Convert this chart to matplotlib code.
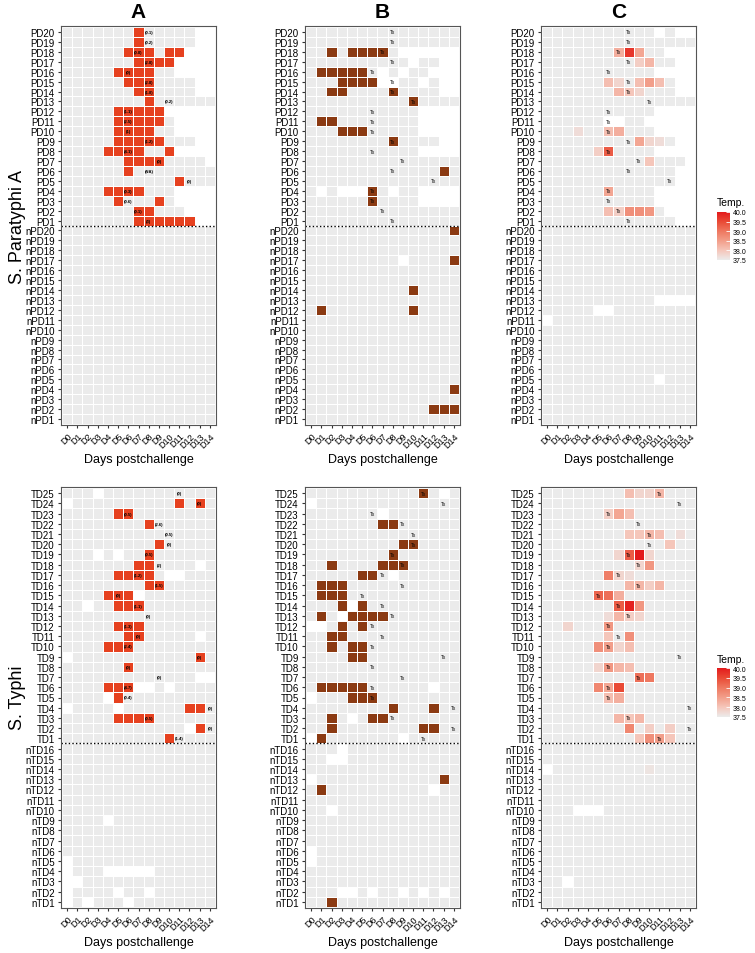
import matplotlib
matplotlib.use("Agg")
import matplotlib.pyplot as plt
import numpy as np
from matplotlib.colors import ListedColormap, LinearSegmentedColormap

plt.rcParams['font.family'] = ['Liberation Sans', 'DejaVu Sans']

days = [f"D{i}" for i in range(15)]

# ---- S. Paratyphi A (rows listed top -> bottom) ----
pd_rows = [f"PD{i}" for i in range(20, 0, -1)] + [f"nPD{i}" for i in range(20, 0, -1)]

# '.' = negative / normal, '#' = positive, ' ' = no sample
pd_culture = [
    ".......#.....  ", ".......#.....  ", "......###.##   ", ".......####    ",
    ".....####..    ", "......###....  ", ".......##....  ", "........#......",
    ".....#####     ", ".....#####.    ", ".....####..    ", ".....#####...  ",
    "....####..#    ", "......####.... ", "......#........", "...........#...",
    "....####...    ", ".....#...#.    ", ".......##...   ", ".......######  ",
] + ["..............."] * 20

pd_pcr = [
    "...............", "...............", "..#.####.      ", ".......... ..  ",
    ".#####. . ..   ", "...####  .. .  ", "..##....#....  ", "..........#....",
    "...........    ", ".##........    ", "...###.....    ", "........#....  ",
    "...........    ", "...............", ".............#.", "...............",
    ". .   #. ..    ", "......#....    ", "...............", "...............",
    "..............#", "...............", "...............", "......... ....#",
    "...............", "...............", "..........#....", "...............",
    ".#........#....", "...............", "...............", "...............",
    "...............", "...............", "...............", "...............",
    "..............#", "...............", "............###", "...............",
]

pd_temp_present = [
    "........... .  ", "...............", "............   ", ".............  ",
    "...........    ", ".............  ", ".............  ", "...............",
    "...........    ", "......  ..     ", "...........    ", ".............  ",
    "...........    ", ".............. ", ".............  ", ".............  ",
    "...........    ", "...........    ", "............   ", ".............  ",
    "...............", "...............", "...............", "...............",
    "...............", "...............", "...............", "...........    ",
    ".....  ........", " ..............", "...............", "...............",
    "...............", "...............", "...............", "........... ...",
    "...............", "...............", "...............", "...............",
]

pd_temp = {
    "PD18": {7: 38.3, 8: 39.7, 9: 38.4},
    "PD17": {9: 37.9, 10: 38.2},
    "PD15": {6: 38.1, 7: 37.8, 9: 38.1, 10: 38.5, 11: 38.1},
    "PD14": {7: 38.2, 8: 38.0, 9: 37.8},
    "PD10": {3: 37.7, 6: 38.1, 7: 38.3},
    "PD9": {9: 38.4, 10: 37.8, 11: 37.7},
    "PD8": {5: 37.9, 6: 39.3},
    "PD7": {10: 38.0},
    "PD4": {6: 38.4},
    "PD2": {6: 38.1, 7: 37.9, 8: 38.7, 9: 38.7, 10: 38.6},
}

pd_tx_day = [8, 8, 7, 8, 6, 8, 8, 10, 6, 6, 6, 8, 6, 9, 8, 12, 6, 6, 7, 8]
pd_notes = ["(0.1)", "(0.2)", "(0.8)", "(2.8)", "(0)", "(2.8)", "(1.8)", "(0.2)",
            "(1.1)", "(2.5)", "(1)", "(1.2)", "(4.1)", "(0)", "(NA)", "(0)",
            "(0.3)", "(0.6)", "(0.1)", "(3)"]

# ---- S. Typhi ----
td_rows = [f"TD{i}" for i in range(25, 0, -1)] + [f"nTD{i}" for i in range(16, 0, -1)]

td_culture = [
    "... ...........", " ..........#.#.", ".....##........", "........#......",
    "...............", ".........#.....", "... . ..#......", ".......##.... .",
    ".....####.  ...", "........##.....", "....### .......", ".. ..###.......",
    "...............", ".....###.......", "......##..... .", "....###........",
    " ............#.", "......#........", ".............  ", "....###  . ....",
    ".... #.........", " .... ......##.", ".....####......", "............ #.",
    "..........#....",
    "...............", "...............", "...............", "...............",
    "...............", "...............", "...............", ".... ..........",
    "...............", "...............", "...............", " ..............",
    " ...     ......", "  .............", " .... .. ......", " . ... ........",
]

td_pcr = [
    "...........#. .", " ..............", "....... .......", ".......##......",
    "...............", ".........##....", "........#......", "..#....###.....",
    ".....##. ......", ".###...........", ".###...........", "...# #.........",
    ".#. ####.......", "  .#.#.........", "..##...........", "..#.##.........",
    "....##.........", "...............", "...............", ".#####...... ..",
    " ...###........", "........#...#..", "..#. .##.......", "..#........##..",
    " #....... .....",
    "... ...........", "..  ...........", "...............", " ............#.",
    ".#.......... ..", "...............", ".. ............", "...............",
    "...............", "...............", " ..............", " ..............",
    "...............", "...............", "...  . .. . . .", "..#............",
]

td_temp_present = ["..............."] * 27 + [
    " ..............", "...............", "...............", "...............",
    "...   .........", "...............", "...............", "...............",
    "...............", "...............", "...............", ".. ............",
    "...............", "...............",
]

td_temp = {
    "TD25": {8: 38.1, 9: 37.8, 10: 37.8, 11: 38.2},
    "TD23": {6: 37.9, 7: 38.4, 8: 38.1},
    "TD21": {8: 38.0, 9: 38.0, 10: 38.2, 11: 38.1, 13: 37.7},
    "TD20": {12: 38.0},
    "TD19": {7: 37.8, 8: 39.3, 9: 40.0, 10: 37.8},
    "TD18": {9: 37.8, 10: 38.6},
    "TD17": {6: 38.9, 7: 37.8, 8: 37.7},
    "TD16": {8: 38.2, 9: 38.2, 10: 37.9, 11: 38.2},
    "TD15": {5: 39.2, 6: 39.1, 7: 38.3},
    "TD14": {7: 39.3, 8: 39.9, 9: 38.6},
    "TD13": {6: 37.7, 7: 38.2, 8: 37.9, 9: 37.8},
    "TD12": {2: 37.8, 6: 38.6},
    "TD11": {6: 38.0, 8: 38.7},
    "TD10": {5: 38.7, 6: 38.5, 7: 37.8, 8: 38.1},
    "TD8": {5: 37.8, 6: 38.6, 7: 38.2, 8: 38.1},
    "TD7": {9: 39.1, 10: 39.0},
    "TD6": {5: 38.8, 6: 38.4, 7: 39.5},
    "TD5": {6: 38.1, 7: 38.3},
    "TD3": {7: 38.2, 8: 38.0, 9: 38.2},
    "TD2": {8: 38.8, 10: 37.9, 12: 37.9},
    "TD1": {9: 38.0, 10: 38.7, 11: 38.5, 12: 38.0},
    "nTD14": {10: 37.6},
}

td_tx_day = [11, 13, 6, 9, 10, 10, 8, 9, 7, 9, 5, 7, 8, 6, 7, 6, 13, 6, 9, 6, 6, 14, 8, 14, 11]
td_notes = ["(0)", "(0)", "(0.5)", "(2.6)", "(0.5)", "(0)", "(0.5)", "(2)", "(1.2)", "(1.5)",
            "(0)", "(1.1)", "(0)", "(1.3)", "(0)", "(2.4)", "(0)", "(0)", "(0)", "(4.7)",
            "(0.4)", "(0)", "(0.5)", "(0)", "(1.4)"]

GREY = "#EBEBEB"
RED = "#E6411F"
BROWN = "#8B3A12"
temp_cmap = LinearSegmentedColormap.from_list(
    "temp", ["#EBEBEB", "#F5C6BA", "#F29E8A", "#EE7860", "#E94A35", "#E31A1C"])


def to_matrix(strings):
    m = np.full((len(strings), 15), np.nan)
    for r, s in enumerate(strings):
        for c, ch in enumerate(s):
            if ch == "." :
                m[r, c] = 0
            elif ch == "#":
                m[r, c] = 1
    return m[::-1]


def temp_matrix(rows, present, temps):
    m = to_matrix(present)
    n = len(rows)
    m[~np.isnan(m)] = 37.5
    for name, vals in temps.items():
        r = n - 1 - rows.index(name)
        for d, t in vals.items():
            m[r, d] = t
    return m


def draw_panel(ax, rows, mat, cmap, vmin, vmax, n_pos, tx_day, notes=None, tx=False):
    n = len(rows)
    ax.pcolormesh(np.arange(16) - 0.5, np.arange(n + 1) - 0.5, np.ma.masked_invalid(mat),
                  cmap=cmap, vmin=vmin, vmax=vmax, edgecolors="white", linewidth=0.6)
    ax.set_xlim(-0.6, 14.6)
    ax.set_ylim(-0.6, n - 0.4)
    ax.set_yticks(range(n))
    ax.set_yticklabels(rows[::-1], fontsize=7)
    ax.set_xticks(range(15))
    ax.set_xticklabels(days, rotation=45, fontsize=6.5, ha="right", rotation_mode="anchor")
    ax.set_xlabel("Days postchallenge", fontsize=9, labelpad=3)
    ax.tick_params(length=2.5, width=0.8, color="#333333", pad=2)
    for sp in ax.spines.values():
        sp.set_color("#555555")
        sp.set_linewidth(0.8)
    ax.axhline(n - n_pos - 0.5, color="black", linestyle=(0, (1, 1.6)), linewidth=1)
    for i, d in enumerate(tx_day):
        y = n - 1 - i
        if notes is not None:
            ax.text(d, y, notes[i], fontsize=3.0, fontweight="bold", ha="center", va="center")
        if tx:
            ax.text(d, y, "Tx", fontsize=3.4, ha="center", va="center")


fig = plt.figure(figsize=(7.55, 9.54), dpi=100)
W, H = 755.0, 954.0
lefts = [61, 305, 541]
pw = 155


def make_ax(x0, y0, y1):
    return fig.add_axes([x0 / W, 1 - y1 / H, pw / W, (y1 - y0) / H])


cult_cmap = ListedColormap([GREY, RED])
pcr_cmap = ListedColormap([GREY, BROWN])

# top row
axA = make_ax(lefts[0], 27, 426)
draw_panel(axA, pd_rows, to_matrix(pd_culture), cult_cmap, 0, 1, 20, pd_tx_day, notes=pd_notes)
axB = make_ax(lefts[1], 27, 426)
draw_panel(axB, pd_rows, to_matrix(pd_pcr), pcr_cmap, 0, 1, 20, pd_tx_day, tx=True)
axC = make_ax(lefts[2], 27, 426)
draw_panel(axC, pd_rows, temp_matrix(pd_rows, pd_temp_present, pd_temp), temp_cmap,
           37.5, 40.0, 20, pd_tx_day, tx=True)

# bottom row
axD = make_ax(lefts[0], 488, 909)
draw_panel(axD, td_rows, to_matrix(td_culture), cult_cmap, 0, 1, 25, td_tx_day, notes=td_notes)
axE = make_ax(lefts[1], 488, 909)
draw_panel(axE, td_rows, to_matrix(td_pcr), pcr_cmap, 0, 1, 25, td_tx_day, tx=True)
axF = make_ax(lefts[2], 488, 909)
draw_panel(axF, td_rows, temp_matrix(td_rows, td_temp_present, td_temp), temp_cmap,
           37.5, 40.0, 25, td_tx_day, tx=True)

for x, t in zip(lefts, ["A", "B", "C"]):
    fig.text((x + pw / 2) / W, 1 - 12 / H, t, fontsize=15, fontweight="bold", ha="center", va="center")

fig.text(18 / W, 1 - 227 / H, "S. Paratyphi A", fontsize=13, rotation=90, ha="center", va="center")
fig.text(18 / W, 1 - 698 / H, "S. Typhi", fontsize=13, rotation=90, ha="center", va="center")

# colour legends
sm = plt.cm.ScalarMappable(cmap=temp_cmap, norm=plt.Normalize(37.5, 40.0))
for y_title, y0, y1 in [(203, 213, 261), (660, 669, 718)]:
    cax = fig.add_axes([717 / W, 1 - y1 / H, 13 / W, (y1 - y0) / H])
    cb = fig.colorbar(sm, cax=cax, ticks=[37.5, 38.0, 38.5, 39.0, 39.5, 40.0])
    cb.ax.set_yticklabels(["37.5", "38.0", "38.5", "39.0", "39.5", "40.0"], fontsize=5)
    cb.outline.set_visible(False)
    cb.ax.tick_params(length=3, color="white", width=0.6, direction="in", pad=2)
    fig.text(717 / W, 1 - y_title / H, "Temp.", fontsize=7.5, ha="left", va="center")

fig.savefig("out.png", dpi=100)
